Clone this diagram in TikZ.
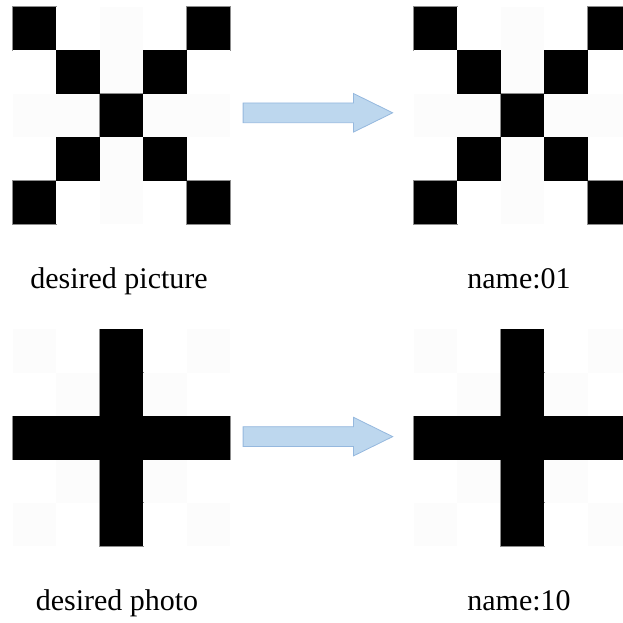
\documentclass[tikz,border=0pt]{standalone}
\usepackage{fontspec}
\setmainfont{Liberation Serif}
\usetikzlibrary{shapes.arrows,positioning}

\definecolor{arrowfill}{HTML}{BDD7EE}
\definecolor{arrowline}{HTML}{95B8DE}
\definecolor{paleg}{HTML}{FCFCFC}

\tikzset{
  cell/.style={minimum size=43.4pt,inner sep=0pt,outer sep=0pt,anchor=north west},
  darkcell/.style={cell,fill=black,draw=black!45,line width=1.2pt},
  bluearrow/.style={single arrow,fill=arrowfill,draw=arrowline,line width=0.8pt,
    inner sep=9.5pt,minimum height=149.6pt,single arrow head extend=9.35pt,
    single arrow tip angle=52.4,anchor=tail},
  caption/.style={anchor=base,inner sep=0pt,font=\fontsize{30}{36}\selectfont}
}

\begin{document}
\begin{tikzpicture}[x=1pt,y=-1pt]
  \path[use as bounding box,clip] (0,0) rectangle (623,622);
  % the four 5x5 pictures: kind 0 = cross X, kind 1 = plus
  \foreach \gx/\gy/\kind/\gname in {13/7/0/xin,414/7/0/xout,13/329.3/1/pin,414/329.3/1/pout}{
    \foreach \r in {0,...,4}{
      \foreach \c in {0,...,4}{
        \pgfmathtruncatemacro{\onx}{(\r==\c)||(\r+\c==4)}
        \pgfmathtruncatemacro{\onp}{(\r==2)||(\c==2)}
        \pgfmathtruncatemacro{\dark}{\kind==0 ? \onx : \onp}
        \pgfmathtruncatemacro{\light}{\kind==0 ? \onp : \onx}
        \ifnum\dark=1
          \node[darkcell] (\gname-\r-\c) at (\gx+\c*43.4,\gy+\r*43.4) {};
        \else\ifnum\light=1
          \node[cell,fill=paleg] (\gname-\r-\c) at (\gx+\c*43.4,\gy+\r*43.4) {};
        \else
          \node[cell,fill=white] (\gname-\r-\c) at (\gx+\c*43.4,\gy+\r*43.4) {};
        \fi\fi
      }
    }
  }
  % black again on top, so only the outer edges keep the grey rim
  \foreach \gname/\kind in {xin/0,xout/0,pin/1,pout/1}{
    \foreach \r in {0,...,4}{
      \foreach \c in {0,...,4}{
        \pgfmathtruncatemacro{\onx}{(\r==\c)||(\r+\c==4)}
        \pgfmathtruncatemacro{\onp}{(\r==2)||(\c==2)}
        \pgfmathtruncatemacro{\dark}{\kind==0 ? \onx : \onp}
        \ifnum\dark=1
          \fill[black] (\gname-\r-\c.north west) rectangle (\gname-\r-\c.south east);
        \fi
      }
    }
  }
  \node[bluearrow] (arrtop) at (242.7,112.8) {};
  \node[bluearrow] (arrbot) at (242.7,436.6) {};
  \node[caption] (capxin) at (119,288) {desired picture};
  \node[caption] (capxout) at (519,288) {name:01};
  \node[caption] (cappin) at (117,610) {desired photo};
  \node[caption] (cappout) at (519,610) {name:10};
\end{tikzpicture}
\end{document}
